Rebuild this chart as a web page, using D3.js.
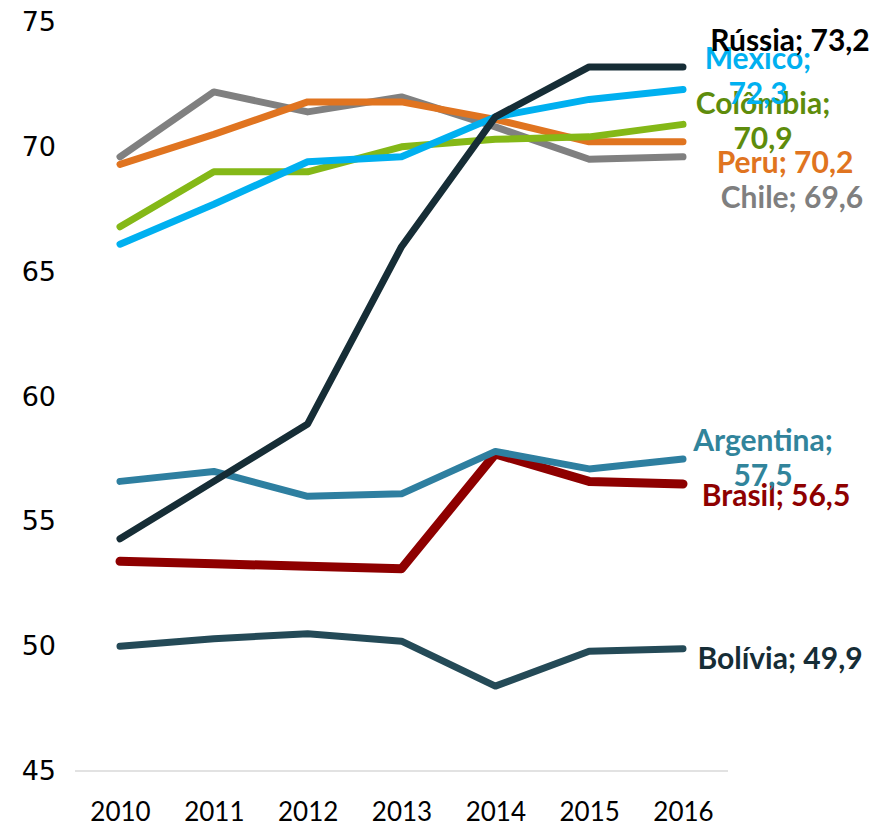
<!DOCTYPE html>
<html>
  <head>
    <meta charset="utf-8">
    <title></title>
    <script src="https://d3js.org/d3.v7.min.js"></script>
  </head>
  <style>
    body { margin: 0; background: #fff; }
  </style>
  <body>
  <svg width="879" height="827"></svg>
  <script>

  var years = [2010, 2011, 2012, 2013, 2014, 2015, 2016];
  var yTicks = [45, 50, 55, 60, 65, 70, 75];

  var russia    = [54.3, 56.6, 58.9, 66.0, 71.2, 73.2, 73.2];
  var mexico    = [66.1, 67.7, 69.4, 69.6, 71.2, 71.9, 72.3];
  var colombia  = [66.8, 69.0, 69.0, 70.0, 70.3, 70.4, 70.9];
  var peru      = [69.3, 70.5, 71.8, 71.8, 71.1, 70.2, 70.2];
  var chile     = [69.6, 72.2, 71.4, 72.0, 70.8, 69.5, 69.6];
  var argentina = [56.6, 57.0, 56.0, 56.1, 57.8, 57.1, 57.5];
  var brasil    = [53.4, 53.3, 53.2, 53.1, 57.7, 56.6, 56.5];
  var bolivia   = [50.0, 50.3, 50.5, 50.2, 48.4, 49.8, 49.9];

  var names = ["Bolívia", "Brasil", "Argentina", "Chile", "Peru", "Colômbia", "Mexico", "Rússia"];
  var values = [bolivia, brasil, argentina, chile, peru, colombia, mexico, russia];

  // line colours / label colours
  var lineColors  = ["#244a57", "#8e0000", "#2e7fa0", "#808080", "#e07420", "#84b817", "#00b0f0", "#162d36"];
  var labelColors = ["#162d36", "#8e0000", "#31849b", "#7f7f7f", "#e07420", "#5e8c0c", "#00b0f0", "#000000"];
  var widths = [7, 9, 7, 7, 7, 7, 7, 7];

  // label placement: centre x, first-line centre y
  var labelPos = [
    {x: 780, y: 658, lines: ["Bolívia; 49,9"]},
    {x: 776, y: 495, lines: ["Brasil; 56,5"]},
    {x: 763, y: 440, lines: ["Argentina;", "57,5"]},
    {x: 792, y: 197, lines: ["Chile; 69,6"]},
    {x: 785, y: 162, lines: ["Peru; 70,2"]},
    {x: 763, y: 103, lines: ["Colômbia;", "70,9"]},
    {x: 758, y: 58,  lines: ["Mexico;", "72,3"]},
    {x: 790, y: 40,  lines: ["Rússia; 73,2"]}
  ];

  var svg = d3.select("svg");

  var x = d3.scalePoint()
            .domain(years)
            .range([120, 683]);

  var y = d3.scaleLinear()
            .domain([45, 75])
            .range([771, 22]);

  // baseline
  svg.append("line")
     .attr("x1", 75).attr("x2", 728)
     .attr("y1", y(45)).attr("y2", y(45))
     .attr("stroke", "#d9d9d9")
     .attr("stroke-width", 1.5);

  // Y axis labels
  var yAxis = svg.append("g")
     .attr("transform", "translate(56,0)")
     .call(d3.axisLeft(y).tickValues(yTicks).tickSize(0).tickPadding(0));
  yAxis.select(".domain").remove();
  yAxis.selectAll("text")
     .attr("font-family", "DejaVu Sans")
     .attr("font-size", "27px")
     .attr("fill", "#000");

  // X axis labels
  var xAxis = svg.append("g")
     .attr("transform", "translate(0," + 803 + ")")
     .call(d3.axisBottom(x).tickSize(0).tickPadding(0));
  xAxis.select(".domain").remove();
  xAxis.selectAll("text")
     .attr("font-family", "Lato")
     .attr("font-size", "26px")
     .attr("fill", "#000");

  var line = d3.line()
     .x(function(d, i) { return x(years[i]); })
     .y(function(d) { return y(d); });

  svg.selectAll("path.series")
     .data(values)
     .enter()
     .append("path")
     .attr("class", "series")
     .attr("d", line)
     .attr("fill", "none")
     .attr("stroke", function(d, i) { return lineColors[i]; })
     .attr("stroke-width", function(d, i) { return widths[i]; })
     .attr("stroke-linecap", "round")
     .attr("stroke-linejoin", "round");

  var lab = svg.selectAll("text.lbl")
     .data(labelPos)
     .enter()
     .append("text")
     .attr("class", "lbl")
     .attr("text-anchor", "middle")
     .attr("font-family", "Lato")
     .attr("font-weight", "bold")
     .attr("font-size", "30px")
     .attr("fill", function(d, i) { return labelColors[i]; });

  lab.selectAll("tspan")
     .data(function(d) { return d.lines.map(function(t, j) { return {t: t, x: d.x, y: d.y + j * 35}; }); })
     .enter()
     .append("tspan")
     .attr("x", function(d) { return d.x; })
     .attr("y", function(d) { return d.y; })
     .attr("dy", "0.35em")
     .text(function(d) { return d.t; });

  </script>
  </body>
</html>
